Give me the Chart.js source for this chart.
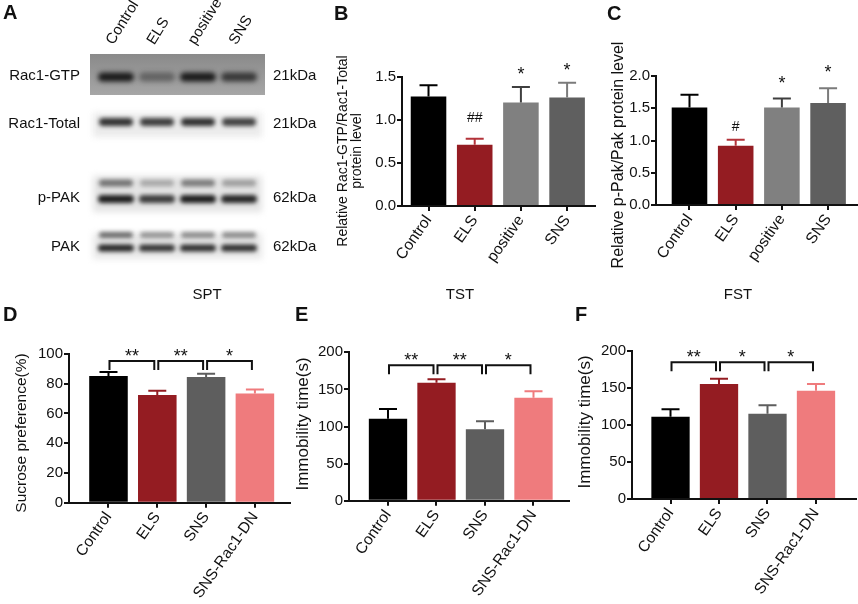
<!DOCTYPE html>
<html>
<head>
<meta charset="utf-8">
<title>Rac1 / PAK figure</title>
<script src="https://cdn.jsdelivr.net/npm/chart.js@4.4.1/dist/chart.umd.min.js"></script>
<style>
  html, body { margin: 0; padding: 0; background: #fff; }
  #fig { position: relative; width: 858px; height: 604px; overflow: hidden;
         font-family: 'Liberation Sans', Arial, sans-serif; color: #111; }
  #fig canvas { position: absolute; left: 0; top: 0; }
  .tag { position: absolute; font-weight: bold; font-size: 20px; line-height: 1; }
  .test { position: absolute; font-size: 15px; line-height: 1; transform: translateX(-50%); }
</style>
</head>
<body>
<div id="fig">
  <canvas id="blotRac1" width="858" height="604"></canvas>
  <canvas id="blotPak" width="858" height="604"></canvas>
  <canvas id="chartRac1" width="858" height="604"></canvas>
  <canvas id="chartPak" width="858" height="604"></canvas>
  <canvas id="chartSpt" width="858" height="604"></canvas>
  <canvas id="chartTst" width="858" height="604"></canvas>
  <canvas id="chartFst" width="858" height="604"></canvas>

  <div class="tag" style="left:3px;top:2px">A</div>
  <div class="tag" style="left:334px;top:3px">B</div>
  <div class="tag" style="left:607px;top:3px">C</div>
  <div class="tag" style="left:3px;top:304px">D</div>
  <div class="tag" style="left:295px;top:304px">E</div>
  <div class="tag" style="left:575px;top:304px">F</div>

  <div class="test" style="left:207px;top:286px">SPT</div>
  <div class="test" style="left:460px;top:286px">TST</div>
  <div class="test" style="left:738px;top:286px">FST</div>
</div>

<script>
// ---------- data ----------
const lanes = ['Control', 'ELS', 'positive', 'SNS'];
const rac1Rows = ['Rac1-GTP', 'Rac1-Total'];
const rac1Kda = ['21kDa', '21kDa'];
const pakRows = ['p-PAK', 'PAK'];
const pakKda = ['62kDa', '62kDa'];

// band darkness per lane (0 = none, 1 = black)
const gtpBand = [0.95, 0.4, 0.95, 0.72];
const totalBand = [0.85, 0.8, 0.86, 0.78];
const pPakUpper = [0.55, 0.28, 0.5, 0.33];
const pPakLower = [0.95, 0.8, 0.95, 0.9];
const pakUpper = [0.6, 0.42, 0.45, 0.45];
const pakLower = [0.92, 0.85, 0.88, 0.88];

const wbGroups = ['Control', 'ELS', 'positive', 'SNS'];
const rac1Mean = [1.27, 0.71, 1.2, 1.26];
const rac1Sem = [0.13, 0.07, 0.18, 0.17];
const rac1Marks = ['', '##', '*', '*'];

const pakMean = [1.51, 0.92, 1.51, 1.58];
const pakSem = [0.2, 0.09, 0.14, 0.23];
const pakMarks = ['', '#', '*', '*'];

const behGroups = ['Control', 'ELS', 'SNS', 'SNS-Rac1-DN'];
const sptMean = [85.2, 72.4, 84.5, 73.5];
const sptSem = [2.7, 2.9, 2.3, 2.7];
const sptSig = [[0, 1, '**'], [1, 2, '**'], [2, 3, '*']];

const tstMean = [110.6, 159.1, 96.2, 138.9];
const tstSem = [13.0, 4.5, 10.8, 8.5];
const tstSig = [[0, 1, '**'], [1, 2, '**'], [2, 3, '*']];

const fstMean = [111, 155, 115, 146];
const fstSem = [9.9, 7.2, 11.3, 9.0];
const fstSig = [[0, 1, '**'], [1, 2, '*'], [2, 3, '*']];

// ---------- setup ----------
const FONT = "'Liberation Sans', Arial, sans-serif";
const INK = '#111';
Chart.defaults.font.family = FONT;
Chart.defaults.color = INK;
Chart.defaults.animation = false;

const W = 858;
const H = 604;

// blot strips behind, blurred bands on top
const blotPlugin = {
  id: 'blot',
  beforeDatasetsDraw(chart, args, opts) {
    const { ctx, chartArea: a, scales: { y } } = chart;
    opts.strips.forEach((s, r) => {
      const yc = y.getPixelForValue(r);
      ctx.save();
      if (s.kind === 'dark') {
        const g = ctx.createLinearGradient(0, yc + s.top, 0, yc + s.bottom);
        g.addColorStop(0, '#8a8a8a');
        g.addColorStop(1, '#a6a6a6');
        ctx.fillStyle = g;
        ctx.fillRect(a.left, yc + s.top, a.right - a.left, s.bottom - s.top);
      } else {
        ctx.filter = 'blur(3px)';
        ctx.fillStyle = s.fill;
        ctx.fillRect(a.left + 3, yc + s.top + 3, a.right - a.left - 6, s.bottom - s.top - 6);
      }
      ctx.restore();
    });
  },
  afterDatasetsDraw(chart) {
    const { ctx } = chart;
    chart.data.datasets.forEach((ds, d) => {
      const b = ds.band;
      chart.getDatasetMeta(d).data.forEach((pt, i) => {
        const v = ds.data[i].v;
        ctx.save();
        ctx.filter = `blur(${b.blur}px)`;
        ctx.fillStyle = `rgba(18,18,18,${v})`;
        ctx.beginPath();
        if (ctx.roundRect) ctx.roundRect(pt.x - b.w / 2, pt.y + b.dy - b.h / 2, b.w, b.h, b.h / 2);
        else ctx.rect(pt.x - b.w / 2, pt.y + b.dy - b.h / 2, b.w, b.h);
        ctx.fill();
        ctx.restore();
      });
    });
  },
};

function blotPanel(id, p) {
  const rowAxis = (labels, position, width, pad) => ({
    type: 'linear',
    position,
    reverse: true,
    min: p.yMin,
    max: p.yMax,
    afterBuildTicks: (s) => { s.ticks = labels.map((_, i) => ({ value: i })); },
    afterFit: (s) => { s.width = width; },
    grid: { display: false, drawTicks: false },
    border: { display: false },
    ticks: { callback: (v) => labels[v], padding: pad, font: { size: 15 }, color: INK },
  });

  return new Chart(document.getElementById(id), {
    type: 'scatter',
    data: { datasets: p.datasets },
    options: {
      responsive: false,
      events: [],
      layout: { padding: { left: 0, top: p.showLanes ? 0 : p.top, right: W - 265 - 60, bottom: H - p.bottom } },
      elements: { point: { radius: 0 } },
      plugins: { legend: { display: false }, tooltip: { enabled: false }, blot: { strips: p.strips } },
      scales: {
        x: {
          type: 'linear',
          position: 'top',
          display: p.showLanes,
          min: -0.634,
          max: 3.634,
          afterBuildTicks: (s) => { s.ticks = lanes.map((_, i) => ({ value: i })); },
          afterFit: (s) => { if (p.showLanes) s.height = p.top; },
          grid: { display: false, drawTicks: false },
          border: { display: false },
          ticks: {
            callback: (v) => lanes[v], minRotation: 58, maxRotation: 58, autoSkip: false,
            padding: 6, labelOffset: 9, font: { size: 15 }, color: INK,
          },
        },
        y: rowAxis(p.rows, 'left', 90, 10),
        y2: rowAxis(p.kda, 'right', 60, 8),
      },
    },
    plugins: [blotPlugin],
  });
}

const laneBands = (vals, row) => vals.map((v, i) => ({ x: i, y: row, v }));

blotPanel('blotRac1', {
  rows: rac1Rows,
  kda: rac1Kda,
  showLanes: true,
  top: 54,
  bottom: 145,
  yMin: -0.458,
  yMax: 1.4375,
  strips: [
    { kind: 'dark', top: -22, bottom: 19 },
    { kind: 'light', top: -14, bottom: 16, fill: '#ebebeb' },
  ],
  datasets: [
    { data: laneBands(gtpBand, 0), band: { dy: 1, w: 36, h: 9, blur: 2.5 } },
    { data: laneBands(totalBand, 1), band: { dy: -2, w: 34, h: 8, blur: 2 } },
  ],
});

blotPanel('blotPak', {
  rows: pakRows,
  kda: pakKda,
  showLanes: false,
  top: 165,
  bottom: 270,
  yMin: -0.673,
  yMax: 1.469,
  strips: [
    { kind: 'light', top: -25, bottom: 17, fill: '#e4e4e4' },
    { kind: 'light', top: -17, bottom: 15, fill: '#e8e8e8' },
  ],
  datasets: [
    { data: laneBands(pPakUpper, 0), band: { dy: -15, w: 34, h: 7, blur: 2 } },
    { data: laneBands(pPakLower, 0), band: { dy: 1, w: 36, h: 8, blur: 2 } },
    { data: laneBands(pakUpper, 1), band: { dy: -12, w: 34, h: 6, blur: 2 } },
    { data: laneBands(pakLower, 1), band: { dy: 1, w: 36, h: 7, blur: 2 } },
  ],
});

// error bars, significance marks and the rotated y title
const barExtras = {
  id: 'barExtras',
  afterDatasetsDraw(chart, args, opts) {
    const { ctx, scales: { x, y } } = chart;
    const ds = chart.data.datasets[0];
    ctx.save();
    ctx.lineWidth = 2;
    chart.getDatasetMeta(0).data.forEach((bar, i) => {
      const top = y.getPixelForValue(ds.data[i].y + opts.sem[i]);
      ctx.strokeStyle = opts.errColors[i];
      ctx.beginPath();
      ctx.moveTo(bar.x, bar.y);
      ctx.lineTo(bar.x, top);
      ctx.moveTo(bar.x - 9, top);
      ctx.lineTo(bar.x + 9, top);
      ctx.stroke();

      const m = opts.marks && opts.marks[i];
      if (m) {
        ctx.fillStyle = INK;
        ctx.textAlign = 'center';
        ctx.textBaseline = 'alphabetic';
        ctx.font = m.includes('#') ? `14px ${FONT}` : `18px ${FONT}`;
        ctx.fillText(m, bar.x, top - opts.lift[m]);
      }
    });

    if (opts.brackets) {
      const yb = y.getPixelForValue(opts.bracketAt);
      ctx.strokeStyle = INK;
      ctx.fillStyle = INK;
      ctx.textAlign = 'center';
      ctx.textBaseline = 'alphabetic';
      ctx.font = `18px ${FONT}`;
      opts.brackets.forEach(([a, b, label]) => {
        const xa = x.getPixelForValue(a) + 1;
        const xb = x.getPixelForValue(b) - 3;
        ctx.beginPath();
        ctx.moveTo(xa, yb + 9);
        ctx.lineTo(xa, yb);
        ctx.lineTo(xb, yb);
        ctx.lineTo(xb, yb + 9);
        ctx.stroke();
        ctx.fillText(label, (xa + xb) / 2, yb + 1);
      });
    }

    const t = opts.title;
    ctx.translate(t.x, t.y);
    ctx.rotate(-Math.PI / 2);
    ctx.fillStyle = INK;
    ctx.font = `${t.size}px ${FONT}`;
    ctx.textAlign = 'center';
    ctx.textBaseline = 'middle';
    t.lines.forEach((line, k) => ctx.fillText(line, 0, k * t.gap));
    ctx.restore();
  },
};

const X_AXIS_H = 98;

function barPanel(id, p) {
  const axisLine = { drawOnChartArea: false, drawTicks: true, tickLength: 5, lineWidth: 2, color: INK };
  return new Chart(document.getElementById(id), {
    type: 'bar',
    data: {
      datasets: [{
        data: p.mean.map((m, i) => ({ x: i, y: m })),
        backgroundColor: p.colors,
        barPercentage: p.barPct,
        categoryPercentage: 1,
      }],
    },
    options: {
      responsive: false,
      events: [],
      layout: {
        padding: { left: p.area.left - 60, top: p.area.top, right: W - p.area.right, bottom: H - p.area.bottom - X_AXIS_H },
      },
      plugins: {
        legend: { display: false },
        tooltip: { enabled: false },
        barExtras: {
          sem: p.sem, errColors: p.errColors, marks: p.marks, lift: p.lift,
          brackets: p.brackets, bracketAt: p.bracketAt, title: p.title,
        },
      },
      scales: {
        x: {
          type: 'linear',
          offset: false,
          min: p.xMin,
          max: p.xMax,
          afterBuildTicks: (s) => { s.ticks = p.groups.map((_, i) => ({ value: i })); },
          afterFit: (s) => { s.height = X_AXIS_H; },
          grid: { ...axisLine, offset: false },
          border: { color: INK, width: 2 },
          ticks: {
            callback: (v) => p.groups[v], minRotation: 55, maxRotation: 55, autoSkip: false,
            padding: 1, font: { size: 15.5 }, color: INK,
          },
        },
        y: {
          min: 0,
          max: p.yMax,
          afterFit: (s) => { s.width = 60; },
          grid: axisLine,
          border: { color: INK, width: 2 },
          ticks: { stepSize: p.yStep, padding: 1, font: { size: 15 }, color: INK, callback: (v) => v.toFixed(p.decimals) },
        },
      },
    },
    plugins: [barExtras],
  });
}

const wbColors = ['#000000', '#941c22', '#808080', '#5f5f5f'];
const wbErr = ['#000000', '#b3333a', '#3f3f3f', '#7b7b7b'];
const behColors = ['#000000', '#941c22', '#5e5e5e', '#ef7b7d'];
const behErr = ['#000000', '#941c22', '#5e5e5e', '#ef7b7d'];

barPanel('chartRac1', {
  groups: wbGroups, mean: rac1Mean, sem: rac1Sem, colors: wbColors, errColors: wbErr,
  marks: rac1Marks, lift: { '*': 7, '##': 17 },
  area: { left: 402, top: 76.7, right: 595, bottom: 206 }, xMin: -0.574, xMax: 3.604, barPct: 0.77,
  yMax: 1.5, yStep: 0.5, decimals: 1,
  title: { lines: ['Relative Rac1-GTP/Rac1-Total', 'protein level'], x: 343, y: 151, size: 14, gap: 14 },
});

barPanel('chartPak', {
  groups: wbGroups, mean: pakMean, sem: pakSem, colors: wbColors, errColors: wbErr,
  marks: pakMarks, lift: { '*': 10, '#': 9 },
  area: { left: 656, top: 76, right: 857, bottom: 205 }, xMin: -0.725, xMax: 3.626, barPct: 0.77,
  yMax: 2, yStep: 0.5, decimals: 1,
  title: { lines: ['Relative p-Pak/Pak protein level'], x: 619, y: 155, size: 16, gap: 0 },
});

barPanel('chartSpt', {
  groups: behGroups, mean: sptMean, sem: sptSem, colors: behColors, errColors: behErr,
  brackets: sptSig, bracketAt: 95.3,
  area: { left: 69, top: 354, right: 290, bottom: 502.7 }, xMin: -0.809, xMax: 3.719, barPct: 0.79,
  yMax: 100, yStep: 20, decimals: 0,
  title: { lines: ['Sucrose preference(%)'], x: 22, y: 433, size: 15.5, gap: 0 },
});

barPanel('chartTst', {
  groups: behGroups, mean: tstMean, sem: tstSem, colors: behColors, errColors: behErr,
  brackets: tstSig, bracketAt: 182.5,
  area: { left: 349, top: 352.3, right: 569, bottom: 500.7 }, xMin: -0.804, xMax: 3.732, barPct: 0.79,
  yMax: 200, yStep: 50, decimals: 0,
  title: { lines: ['Immobility time(s)'], x: 303.5, y: 424, size: 17, gap: 0 },
});

barPanel('chartFst', {
  groups: behGroups, mean: fstMean, sem: fstSem, colors: behColors, errColors: behErr,
  brackets: fstSig, bracketAt: 184.4,
  area: { left: 632, top: 350.7, right: 856, bottom: 499 }, xMin: -0.794, xMax: 3.825, barPct: 0.79,
  yMax: 200, yStep: 50, decimals: 0,
  title: { lines: ['Immobility time(s)'], x: 585, y: 422, size: 17, gap: 0 },
});
</script>
</body>
</html>
